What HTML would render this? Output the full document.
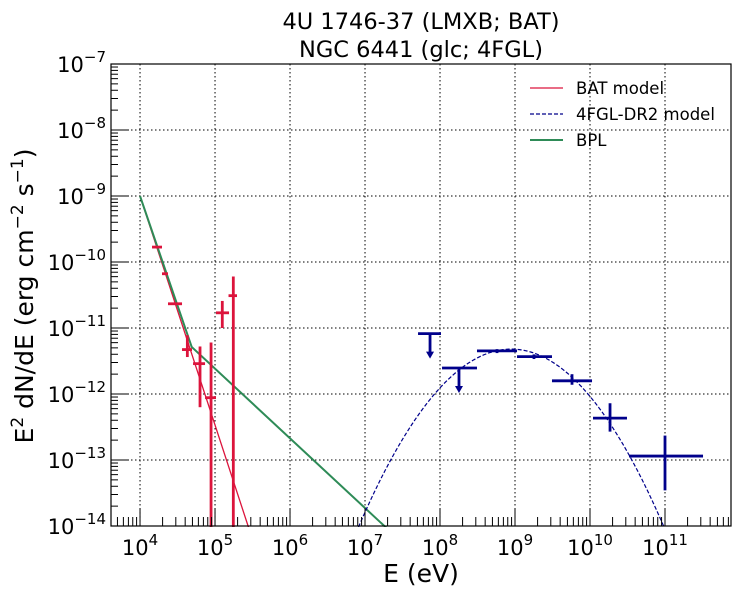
<!DOCTYPE html>
<html><head><meta charset="utf-8"><style>
html,body{margin:0;padding:0;background:#fff;}
svg{display:block;font-family:"DejaVu Sans","Liberation Sans",sans-serif;}
</style></head><body>
<svg id="chart" width="741" height="596" viewBox="0 0 741 596" xmlns="http://www.w3.org/2000/svg">
<rect width="741" height="596" fill="#fff"/>
<text x="421" y="29" font-size="22.5" text-anchor="middle">4U 1746-37 (LMXB; BAT)</text>
<text x="421" y="57" font-size="22.5" text-anchor="middle">NGC 6441 (glc; 4FGL)</text>
<g id="grid"></g>
<g id="series"></g>
<g id="axes"></g>
<text x="421" y="582" font-size="25" text-anchor="middle">E (eV)</text>
<text transform="translate(33,296) rotate(-90)" font-size="25" text-anchor="middle">E<tspan font-size="17" dy="-10">2</tspan><tspan dy="10"> dN/dE (erg cm</tspan><tspan font-size="17" dy="-10">−2</tspan><tspan dy="10"> s</tspan><tspan font-size="17" dy="-10">−1</tspan><tspan dy="10">)</tspan></text>
<g>
<line x1="530" y1="88" x2="563" y2="88" stroke="#dc143c" stroke-width="1.3"/>
<text x="576" y="94" font-size="16.5">BAT model</text>
<line x1="530" y1="114" x2="563" y2="114" stroke="#00008b" stroke-width="1.3" stroke-dasharray="4,2"/>
<text x="576" y="120" font-size="16.5">4FGL-DR2 model</text>
<line x1="530" y1="140" x2="563" y2="140" stroke="#2e8b57" stroke-width="2"/>
<text x="576" y="146" font-size="16.5">BPL</text>
</g>
</svg>
<script>
// ---- data (log10 units) ----
const xTicks = [4,5,6,7,8,9,10,11];
const yTicks = [-7,-8,-9,-10,-11,-12,-13,-14];
// BAT points
const batE   = [4.227, 4.333, 4.467, 4.631, 4.80, 4.947, 5.097, 5.244];
const batElo = [4.16, 4.293, 4.373, 4.56, 4.707, 4.867, 5.013, 5.18];
const batEhi = [4.293, 4.373, 4.56, 4.693, 4.867, 5.013, 5.187, 5.293];
const batF   = [-9.774, -10.178, -10.633, -11.327, -11.54, -12.056, -10.77, -10.51];
const batFlo = [-9.774, -10.178, -10.633, -11.44, -12.2, -14.5, -11.0, -14.5];
const batFhi = [-9.774, -10.178, -10.633, -11.11, -11.28, -11.22, -10.59, -10.22];
// Fermi points
const fgE   = [7.867, 8.253, 8.76, 9.253, 9.76, 10.267, 11.0];
const fgElo = [7.707, 8.027, 8.493, 9.027, 9.493, 10.04, 10.52];
const fgEhi = [8.013, 8.493, 9.027, 9.493, 10.027, 10.493, 11.507];
const fgF   = [-11.085, -11.606, -11.347, -11.434, -11.80, -12.365, -12.94];
const fgFlo = [-11.085, -11.606, -11.38, -11.47, -11.86, -12.57, -13.46];
const fgFhi = [-11.085, -11.606, -11.32, -11.40, -11.70, -12.14, -12.63];
const fgUL  = [1, 1, 0, 0, 0, 0, 0];
// models
const batModel = [4.0, -9.0, -3.47];
const bplModel = [4.0, -9.0, 4.689, -3.32, -1.056];
const lpModel  = [8.95, -11.32, 0.65];

const X0=111, X1=731, Y0=64, Y1=526;
const xMin=3.613, xMax=11.88, yMax=-7, yMin=-14;
const xs = v => X0 + (v - xMin) / (xMax - xMin) * (X1 - X0);
const ys = v => Y0 + (yMax - v) / (yMax - yMin) * (Y1 - Y0);
const NS="http://www.w3.org/2000/svg";
function mk(tag, attrs, parent){const e=document.createElementNS(NS,tag);for(const k in attrs)e.setAttribute(k,attrs[k]);parent.appendChild(e);return e;}
const grid=document.getElementById('grid'), ser=document.getElementById('series'), ax=document.getElementById('axes');

xTicks.forEach(t=>{
  const l=mk('line',{x1:xs(t),x2:xs(t),y1:Y0,y2:Y1,stroke:'#000','stroke-width':1,'stroke-dasharray':'1.5,2.5'},grid);
  
  
});
yTicks.forEach(t=>{
  const l=mk('line',{x1:X0,x2:X1,y1:ys(t),y2:ys(t),stroke:'#000','stroke-width':1,'stroke-dasharray':'1.5,2.5'},grid);
  
  
});

function poly(pts, attrs, name){
  const d=pts.map((p,i)=>(i?'L':'M')+xs(p[0]).toFixed(2)+','+ys(p[1]).toFixed(2)).join('');
  const e=mk('path',Object.assign({d:d,fill:'none'},attrs),ser);
  
  
}
{
  const e1=batModel[0]+(batModel[1]-(-14.3))/(-batModel[2]);
  poly([[batModel[0],batModel[1]],[e1,-14.3]],{stroke:'#dc143c','stroke-width':1.3},'bat-model-line');
  const fb=bplModel[1]+bplModel[3]*(bplModel[2]-bplModel[0]);
  const e2=bplModel[2]+(-14.3-fb)/bplModel[4];
  poly([[bplModel[0],bplModel[1]],[bplModel[2],fb],[e2,-14.3]],{stroke:'#2e8b57','stroke-width':2},'bpl-model-line');
  const pts=[];
  for(let e=6.5;e<=11.5;e+=0.02){const f=lpModel[1]-lpModel[2]*(e-lpModel[0])**2; if(f>-14.3) pts.push([e,f]);}
  poly(pts,{stroke:'#00008b','stroke-width':1.2,'stroke-dasharray':'4,2'},'4fgl-model-line');
}

const clipLow = v => Math.max(v, -14.2);
function errbar(color, E, Elo, Ehi, F, Flo, Fhi, ul, name){
  const g=mk('g',{stroke:color,'stroke-width':2.8,fill:color},ser);
  
  
  mk('line',{x1:xs(Elo),x2:xs(Ehi),y1:ys(F),y2:ys(F)},g);
  if(ul){
    const y=ys(F), x=xs(E);
    mk('line',{x1:x,x2:x,y1:y,y2:y+20},g);
    mk('path',{d:`M${x-4},${y+18}L${x+4},${y+18}L${x},${y+25}Z`,stroke:'none'},g);
  } else if(Fhi!==Flo){
    mk('line',{x1:xs(E),x2:xs(E),y1:ys(Fhi),y2:ys(clipLow(Flo))},g);
  }
}
batE.forEach((e,i)=>errbar('#dc143c',e,batElo[i],batEhi[i],batF[i],batFlo[i],batFhi[i],0,'bat-point'));
fgE.forEach((e,i)=>errbar('#00008b',e,fgElo[i],fgEhi[i],fgF[i],fgFlo[i],fgFhi[i],fgUL[i],'fermi-point'));

mk('rect',{x:0,y:Y1+1,width:741,height:70,fill:'#fff'},ser);

mk('rect',{x:X0,y:Y0,width:X1-X0,height:Y1-Y0,fill:'none',stroke:'#000','stroke-width':1.2},ax);
for(let d=3; d<=11; d++){
  for(let m=1;m<10;m++){
    const v=d+Math.log10(m); if(v<xMin||v>xMax) continue;
    const len=m===1?18:9;
    mk('line',{x1:xs(v),x2:xs(v),y1:Y1,y2:Y1-len,stroke:'#000','stroke-width':1},ax);
  }
}
xTicks.forEach(t=>{
  const tx=mk('text',{x:xs(t),y:555,'font-size':21,'text-anchor':'middle'},ax);
  
  
  tx.innerHTML='10<tspan font-size="15" dy="-10">'+t+'</tspan>';
});
for(let d=-14; d<-7; d++){
  for(let m=1;m<10;m++){
    const v=d+Math.log10(m);
    const len=m===1?18:7;
    mk('line',{x1:X0,x2:X0+len,y1:ys(v),y2:ys(v),stroke:'#000','stroke-width':1},ax);
  }
}
yTicks.forEach(t=>{
  const tx=mk('text',{x:106,y:ys(t)+8,'font-size':21,'text-anchor':'end'},ax);
  
  
  tx.innerHTML='10<tspan font-size="15" dy="-10">−'+(-t)+'</tspan>';
});
</script>
</body></html>
